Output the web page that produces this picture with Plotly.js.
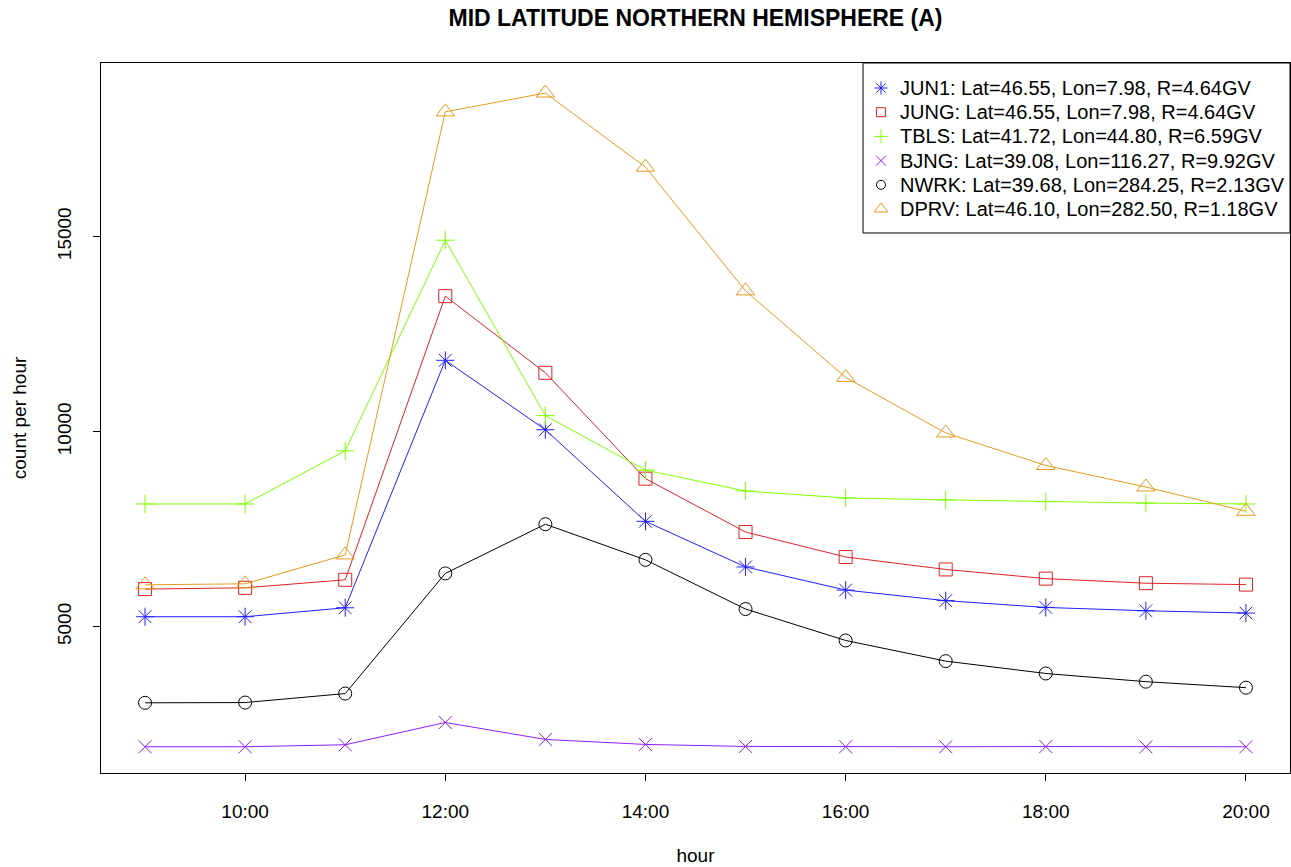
<!DOCTYPE html>
<html>
<head>
<meta charset="utf-8">
<script src="https://cdn.plot.ly/plotly-3.0.1.min.js"></script>
<style>html,body{margin:0;padding:0;background:#fff;}#chart{width:1291px;height:867px;}</style>
</head>
<body>
<div id="chart"></div>
<script>
// hour of day
const hours = [9, 10, 11, 12, 13, 14, 15, 16, 17, 18, 19, 20];
const xTickVals = [10, 12, 14, 16, 18, 20];
const xTickText = ["10:00", "12:00", "14:00", "16:00", "18:00", "20:00"];
const yTickVals = [5000, 10000, 15000];
const yTickText = ["5000", "10000", "15000"];

// count per hour for each station
const JUN1 = [5256, 5256, 5486, 11829, 10049, 7701, 6532, 5939, 5668, 5494, 5409, 5350];
const JUNG = [5964, 5997, 6202, 13473, 11509, 8795, 7427, 6788, 6468, 6233, 6115, 6079];
const TBLS = [8146, 8146, 9509, 14908, 10412, 9015, 8478, 8300, 8251, 8205, 8169, 8146];
const BJNG = [1923, 1923, 1974, 2545, 2110, 1982, 1931, 1923, 1923, 1928, 1920, 1923];
const NWRK = [3049, 3056, 3286, 6366, 7627, 6714, 5453, 4647, 4118, 3801, 3591, 3437];
const DPRV = [6074, 6100, 6841, 18197, 18680, 16780, 13609, 11390, 9967, 9133, 8581, 7959];

const seriesNames = [
  "JUN1: Lat=46.55, Lon=7.98, R=4.64GV",
  "JUNG: Lat=46.55, Lon=7.98, R=4.64GV",
  "TBLS: Lat=41.72, Lon=44.80, R=6.59GV",
  "BJNG: Lat=39.08, Lon=116.27, R=9.92GV",
  "NWRK: Lat=39.68, Lon=284.25, R=2.13GV",
  "DPRV: Lat=46.10, Lon=282.50, R=1.18GV"
];
const seriesValues = [JUN1, JUNG, TBLS, BJNG, NWRK, DPRV];
const seriesColors = ["#1f1fff", "#dc2328", "#7fff00", "#8f1fff", "#000000", "#e69a1e"];
const seriesSymbols = ["asterisk-open", "square-open", "cross-thin-open", "x-thin-open", "circle-open", "triangle-up-open"];
const seriesSizes = [15, 13, 13, 13, 13, 16];
const legendSizes = [11, 9, 10, 10, 9, 12];

const FONT = "Liberation Sans, Arial, Helvetica, sans-serif";

const traces = [];
seriesValues.forEach((vals, i) => {
  traces.push({
    x: hours, y: vals, type: "scatter", mode: "lines+markers",
    name: seriesNames[i], showlegend: false,
    line: {color: seriesColors[i], width: 1},
    marker: {symbol: seriesSymbols[i], size: seriesSizes[i], color: seriesColors[i],
             line: {color: seriesColors[i], width: 1}}
  });
});

// legend box (R style), laid out in paper fractions of the plot area
const legBox = {x0: 0.6409, x1: 1, y0: 0.7606, y1: 1};
const legSymX = 0.6560, legTextX = 0.6701;
const legTopPx = 25, legStepPx = 24.2, plotHpx = 710;
const legY = seriesNames.map((_, i) => 1 - (legTopPx + legStepPx * i) / plotHpx);

seriesNames.forEach((nm, i) => {
  traces.push({
    x: [legSymX], y: [legY[i]], xaxis: "x2", yaxis: "y2",
    type: "scatter", mode: "markers", showlegend: false, hoverinfo: "skip",
    marker: {symbol: seriesSymbols[i], size: legendSizes[i], color: seriesColors[i],
             line: {color: seriesColors[i], width: 1}}
  });
});

const annotations = seriesNames.map((nm, i) => ({
  text: nm, xref: "paper", yref: "paper", x: legTextX, y: legY[i],
  xanchor: "left", yanchor: "middle", showarrow: false,
  font: {family: FONT, size: 20, color: "#000000"}
}));

const layout = {
  width: 1291, height: 867,
  paper_bgcolor: "#ffffff", plot_bgcolor: "#ffffff",
  font: {family: FONT, size: 19, color: "#000000"},
  margin: {l: 101, r: 1, t: 63, b: 94, pad: 0},
  showlegend: false,
  title: {
    text: "<b>MID LATITUDE NORTHERN HEMISPHERE (A)</b>",
    font: {family: FONT, size: 23, color: "#000000"},
    x: 0.5, xanchor: "center", xref: "paper",
    y: 1 - 18 / 867, yanchor: "middle", yref: "container"
  },
  xaxis: {
    range: [8.56, 20.44], tickmode: "array", tickvals: xTickVals, ticktext: xTickText,
    ticks: "outside", ticklen: 7, tickwidth: 1, tickcolor: "#000000",
    showline: true, linecolor: "#000000", linewidth: 1, mirror: true,
    showgrid: false, zeroline: false,
    tickfont: {family: FONT, size: 19},
    ticklabelstandoff: 14,
    title: {text: "hour", font: {family: FONT, size: 19}, standoff: 27}
  },
  yaxis: {
    range: [1250, 19450], tickmode: "array", tickvals: yTickVals, ticktext: yTickText,
    tickangle: -90,
    ticks: "outside", ticklen: 7, tickwidth: 1, tickcolor: "#000000",
    showline: true, linecolor: "#000000", linewidth: 1, mirror: true,
    showgrid: false, zeroline: false,
    tickfont: {family: FONT, size: 19},
    ticklabelstandoff: 14,
    title: {text: "count per hour", font: {family: FONT, size: 19}, standoff: 22}
  },
  xaxis2: {overlaying: "x", range: [0, 1], visible: false, fixedrange: true},
  yaxis2: {overlaying: "y", range: [0, 1], visible: false, fixedrange: true, anchor: "x2"},
  shapes: [{
    type: "rect", xref: "paper", yref: "paper",
    x0: legBox.x0, x1: legBox.x1, y0: legBox.y0, y1: legBox.y1,
    line: {color: "#000000", width: 1}, fillcolor: "#ffffff", layer: "below"
  }],
  annotations: annotations
};

Plotly.newPlot("chart", traces, layout, {displayModeBar: false, staticPlot: true});
</script>
</body>
</html>
